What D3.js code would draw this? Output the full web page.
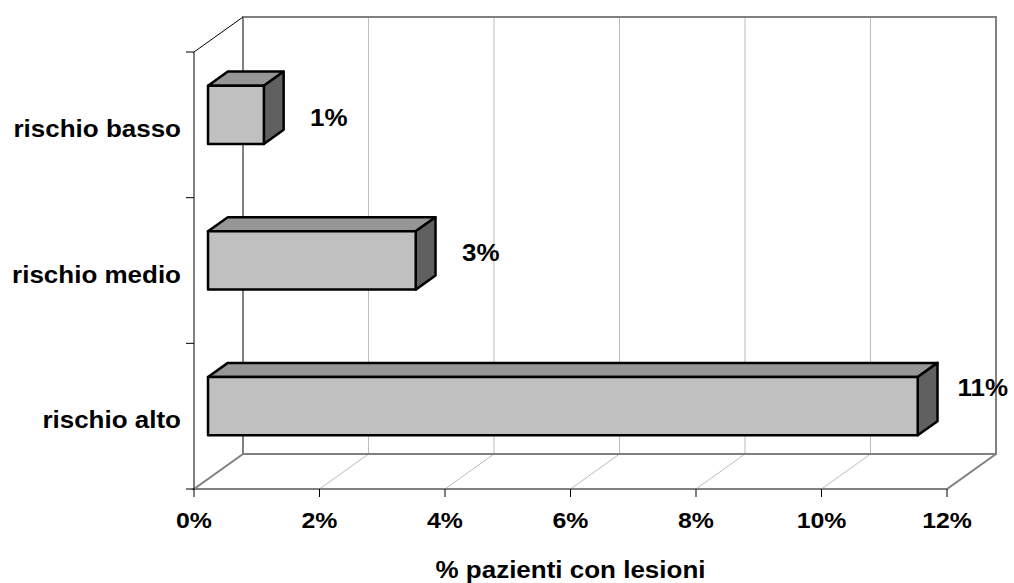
<!DOCTYPE html>
<html>
<head>
<meta charset="utf-8">
<script src="https://cdn.jsdelivr.net/npm/d3@7"></script>
<style>
  html, body { margin: 0; padding: 0; background: #fff; }
  svg text { font-family: "Liberation Sans", Arial, sans-serif; font-weight: bold; fill: #000; }
</style>
</head>
<body>
<svg id="chart" width="1014" height="583"></svg>
<script>
// Data
const categories = ["rischio basso", "rischio medio", "rischio alto"];
const values = [0.89, 3.31, 11.31];          // % of patients with lesions
const xTicks = [0, 2, 4, 6, 8, 10, 12];
const axisTitle = "% pazienti con lesioni";

const svg = d3.select("#chart");

// Front plane scales
const x = d3.scaleLinear().domain([0, 12]).range([194, 947]);
const y = d3.scaleBand().domain(categories).range([52, 489]).padding(0);
// Depth projection (0 = front, 1 = back wall)
const dX = d3.scaleLinear().domain([0, 1]).range([0, 49]);
const dY = d3.scaleLinear().domain([0, 1]).range([0, -35]);
// Label placement scale used for the value labels
const yLab = d3.scaleBand().domain(categories).range([50, 455]);

const P = (v, yy, f) => [x(v) + dX(f), yy + dY(f)];
const line = d3.line();

const gridColor = "#bdbdbd", wallColor = "#808080";
const yTop = y.range()[0], yBot = y.range()[1];
const xMax = x.domain()[1];

// Grid lines on back wall and floor
const grid = svg.append("g");
xTicks.slice(1, -1).forEach(t => {
  grid.append("path").attr("d", line([P(t, yTop, 1), P(t, yBot, 1)]))
    .attr("stroke", gridColor).attr("stroke-width", 1).attr("fill", "none");
  grid.append("path").attr("d", line([P(t, yBot, 0), P(t, yBot, 1)]))
    .attr("stroke", gridColor).attr("stroke-width", 1).attr("fill", "none");
});

// Walls and floor outline
const walls = svg.append("g").attr("fill", "none").attr("stroke", wallColor).attr("stroke-width", 2);
walls.append("path").attr("d", line([P(0, yBot, 1), P(0, yTop, 1), P(xMax, yTop, 1), P(xMax, yBot, 1), P(0, yBot, 1)]));
walls.append("path").attr("d", line([P(0, yBot, 1), P(0, yBot, 0), P(xMax, yBot, 0), P(xMax, yBot, 1)]));

// Left axis and top-left edge
svg.append("path").attr("d", line([P(0, yTop, 1), P(0, yTop, 0), P(0, yBot, 0)]))
  .attr("stroke", "#000").attr("stroke-width", 1).attr("fill", "none");

// Category ticks on left axis
const catBounds = categories.map(c => y(c)).concat([yBot]);
svg.append("g").selectAll("line").data(catBounds).join("line")
  .attr("x1", x(0) - 8).attr("x2", x(0)).attr("y1", d => d).attr("y2", d => d)
  .attr("stroke", "#000").attr("stroke-width", 1);

// Value axis ticks
svg.append("g").selectAll("line").data(xTicks).join("line")
  .attr("x1", d => x(d)).attr("x2", d => x(d)).attr("y1", yBot).attr("y2", yBot + 8)
  .attr("stroke", "#000").attr("stroke-width", 1);

// Horizontal text stretch
const sx = 1.13;
const stretched = (sel, px, py) => sel.attr("transform", (d, i) => `translate(${px(d, i)},${py(d, i)}) scale(${sx},1)`);

// Tick labels
stretched(svg.append("g").selectAll("text").data(xTicks).join("text")
  .attr("text-anchor", "middle").attr("font-size", 22)
  .text(d => d + "%"), d => x(d), () => 528);

// Axis title
svg.append("text").attr("text-anchor", "middle").attr("font-size", 23)
  .attr("transform", `translate(${(x(0) + x(xMax)) / 2},578) scale(${sx},1)`)
  .text(axisTitle);

// Category labels
stretched(svg.append("g").selectAll("text").data(categories).join("text")
  .attr("text-anchor", "end").attr("font-size", 23)
  .text(d => d), () => 181, d => y(d) + y.bandwidth() / 2 + 12);

// Bars
const f1 = 0.286, f2 = 0.69;
const barH = y.bandwidth() * 0.4;
const bars = svg.append("g").attr("stroke", "#000").attr("stroke-width", 2.5).attr("stroke-linejoin", "round");
categories.forEach((c, i) => {
  const v = values[i];
  const top = y(c) + (y.bandwidth() - barH) / 2;
  const bot = top + barH;
  // top face
  bars.append("path").attr("fill", "#969696")
    .attr("d", line([P(0, top, f1), P(v, top, f1), P(v, top, f2), P(0, top, f2)]) + "Z");
  // right side face
  bars.append("path").attr("fill", "#606060")
    .attr("d", line([P(v, top, f1), P(v, top, f2), P(v, bot, f2), P(v, bot, f1)]) + "Z");
  // front face
  bars.append("path").attr("fill", "#c0c0c0")
    .attr("d", line([P(0, top, f1), P(v, top, f1), P(v, bot, f1), P(0, bot, f1)]) + "Z");
});

// Value labels
const fmt = v => Math.round(v) + "%";
stretched(svg.append("g").selectAll("text").data(categories).join("text")
  .attr("text-anchor", "middle").attr("font-size", 23)
  .text((d, i) => fmt(values[i])),
  (d, i) => P(values[i], 0, f1)[0] + 65,
  d => yLab(d) + yLab.bandwidth() / 2 + 8);
</script>
</body>
</html>
